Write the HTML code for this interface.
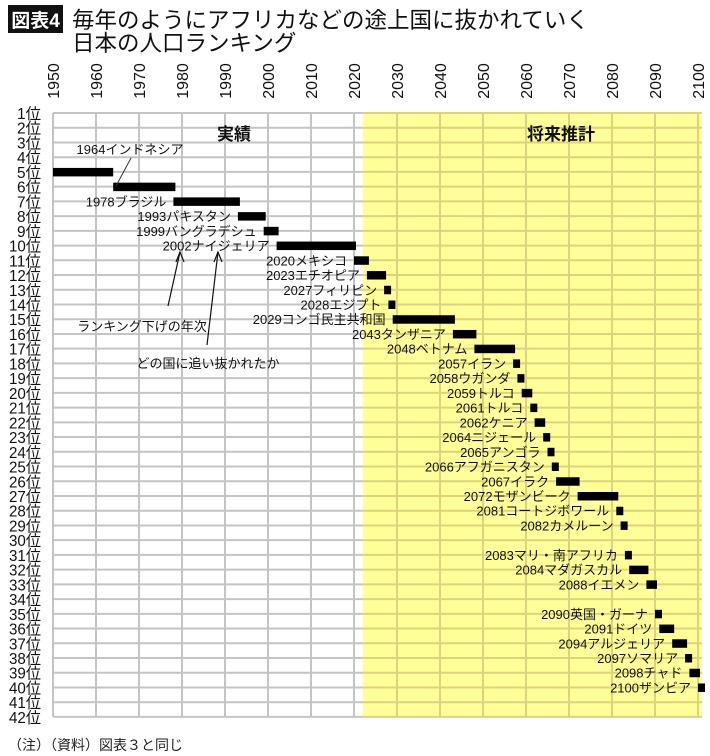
<!DOCTYPE html>
<html><head><meta charset="utf-8">
<style>
html,body{margin:0;padding:0;background:#fff;width:710px;height:756px;overflow:hidden}
svg{display:block}
text{font-family:"Liberation Sans","Noto Sans CJK JP",sans-serif}
</style></head>
<body>
<svg id="chart" width="710" height="756" viewBox="0 0 710 756">
  <rect x="8" y="5" width="55" height="28" fill="#111"/>
  <text x="35.5" y="27" font-size="19" font-weight="bold" fill="#fff" text-anchor="middle">図表4</text>
  <text x="72" y="28" font-size="22.5" fill="#111">毎年のようにアフリカなどの途上国に抜かれていく</text>
  <text x="72" y="51" font-size="22.5" fill="#111">日本の人口ランキング</text>
  <g id="grid"></g>
  <g id="bars"></g>
  <g id="labels"></g>
  <text x="234" y="140" font-size="17" font-weight="bold" fill="#111" text-anchor="middle">実績</text>
  <text x="561" y="140" font-size="17" font-weight="bold" fill="#111" text-anchor="middle">将来推計</text>
  <text x="130" y="154" font-size="13" fill="#111" text-anchor="middle">1964インドネシア</text>
  <line x1="131" y1="158" x2="116" y2="186" stroke="#333" stroke-width="1"/>
  <text x="142" y="331" font-size="13" fill="#111" text-anchor="middle">ランキング下げの年次</text>
  <line x1="168" y1="306" x2="180" y2="252" stroke="#111" stroke-width="1.2"/>
  <polyline points="176,262 180,252 184,262" fill="none" stroke="#111" stroke-width="1.2"/>
  <text x="208" y="368" font-size="13" fill="#111" text-anchor="middle">どの国に追い抜かれたか</text>
  <line x1="207" y1="345" x2="218" y2="252" stroke="#111" stroke-width="1.2"/>
  <polyline points="214,262 218,252 222,262" fill="none" stroke="#111" stroke-width="1.2"/>
  <text x="8" y="750" font-size="14" fill="#222">（注）（資料）図表３と同じ</text>
</svg>
<script>
var yearTicks = [1950,1960,1970,1980,1990,2000,2010,2020,2030,2040,2050,2060,2070,2080,2090,2100];
var rankCount = 42;
var startYears = [1950,1964,1978,1993,1999,2002,2020,2023,2027,2028,2029,2043,2048,2057,2058,2059,2061,2062,2064,2065,2066,2067,2072,2081,2082,2083,2084,2088,2090,2091,2094,2097,2098,2100];
var endYears   = [1964,1978,1993,1999,2002,2020,2023,2027,2028,2029,2043,2048,2057,2058,2059,2061,2062,2064,2065,2066,2067,2072,2081,2082,2083,2084,2088,2090,2091,2094,2097,2098,2100,2101];
var ranks      = [5,6,7,8,9,10,11,12,13,14,15,16,17,18,19,20,21,22,23,24,25,26,27,28,29,31,32,33,35,36,37,38,39,40];
var countries  = ["","インドネシア","ブラジル","パキスタン","バングラデシュ","ナイジェリア","メキシコ","エチオピア","フィリピン","エジプト","コンゴ民主共和国","タンザニア","ベトナム","イラン","ウガンダ","トルコ","トルコ","ケニア","ニジェール","アンゴラ","アフガニスタン","イラク","モザンビーク","コートジボワール","カメルーン","マリ・南アフリカ","マダガスカル","イエメン","英国・ガーナ","ドイツ","アルジェリア","ソマリア","チャド","ザンビア"];
var projStart = 2022;

var NS="http://www.w3.org/2000/svg";
function X(y){return 53+(y-1950)*4.3;}
function Y(r){return 113+(r-1)*14.73;}
var x0=X(1950), x1=702, y0=Y(1), y1=Y(rankCount);
function mk(tag,attrs,parent){var e=document.createElementNS(NS,tag);for(var k in attrs)e.setAttribute(k,attrs[k]);parent.appendChild(e);return e;}
var grid=document.getElementById('grid'), bars=document.getElementById('bars'), labels=document.getElementById('labels');

var bg=mk('rect',{x:X(projStart),y:y0,width:x1-X(projStart),height:y1-y0,fill:'#ffff99'},grid);


for(var r=1;r<=rankCount;r++){
  var yy=Y(r);
  var l1=mk('line',{x1:x0,x2:X(projStart),y1:yy,y2:yy,stroke:'#c4c4c4','stroke-width':2},grid);
  
  
  var l2=mk('line',{x1:X(projStart),x2:x1,y1:yy,y2:yy,stroke:'#dcd47c','stroke-width':2},grid);
  
  
  var t=mk('text',{x:41,y:yy+6,'font-size':15.5,fill:'#111','text-anchor':'end',textLength:(r<10?24:32),lengthAdjust:'spacingAndGlyphs'},labels);
  t.textContent=r+'位';
  
  
}
yearTicks.forEach(function(yr){
  var xx=X(yr);
  var inProj = yr>projStart;
  var g=mk('line',{x1:xx,x2:xx,y1:y0,y2:y1,stroke:inProj?'#dcd47c':'#c4c4c4','stroke-width':2},grid);
  
  
  var t=mk('text',{x:0,y:0,'font-size':16,fill:'#111','text-anchor':'middle',transform:'translate('+(xx+6)+',81) rotate(-90)'},labels);
  t.textContent=yr;
  
  
});
for(var i=0;i<startYears.length;i++){
  var xs=X(startYears[i]), w=(endYears[i]-startYears[i])*4.3+2;
  if(i===0) w-=2;
  if(w<7) w=7;
  var yy=Y(ranks[i]);
  var b=mk('rect',{x:xs,y:yy-4,width:w,height:8.5,fill:'#000'},bars);
  
  
  if(i>=2){
    var t=mk('text',{x:xs-7,y:yy+5,'font-size':13,fill:'#111','text-anchor':'end'},labels);
    t.textContent=startYears[i]+countries[i];
    
    
  }
}
</script>
</body></html>
